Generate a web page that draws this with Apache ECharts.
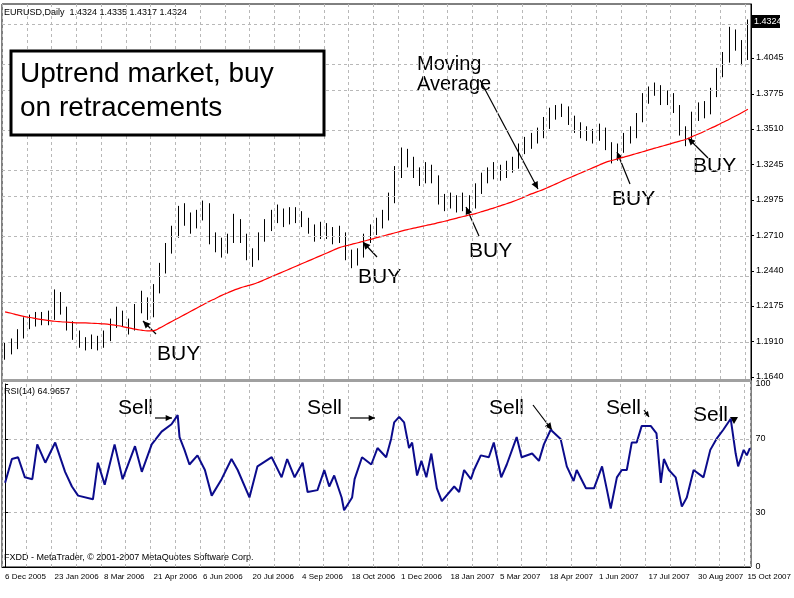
<!DOCTYPE html>
<html>
<head>
<meta charset="utf-8">
<script src="https://cdn.jsdelivr.net/npm/echarts@6/dist/echarts.min.js"></script>
<style>
  html, body { margin: 0; padding: 0; background: #fff; }
  #chart { width: 794px; height: 598px; }
</style>
</head>
<body>
<div id="chart"></div>
<script>
// data ==============================================================
// each bar ~4 trading days
var dateLabels = ['6 Dec 2005', '23 Jan 2006', '8 Mar 2006', '21 Apr 2006', '6 Jun 2006', '20 Jul 2006',
    '4 Sep 2006', '18 Oct 2006', '1 Dec 2006', '18 Jan 2007', '5 Mar 2007', '18 Apr 2007',
    '1 Jun 2007', '17 Jul 2007', '30 Aug 2007', '15 Oct 2007'];

var closes = [1.1844, 1.1882, 1.1957, 1.2033, 1.2056, 1.2086, 1.2071, 1.2086, 1.2260, 1.2146,
    1.2033, 1.1957, 1.1897, 1.1882, 1.1905, 1.1882, 1.1935, 1.2033, 1.2109, 1.2056,
    1.2010, 1.2146, 1.2222, 1.2109, 1.2298, 1.2449, 1.2600, 1.2713, 1.2865, 1.2827,
    1.2789, 1.2842, 1.2940, 1.2676, 1.2638, 1.2600, 1.2676, 1.2812, 1.2691, 1.2562,
    1.2540, 1.2691, 1.2766, 1.2842, 1.2887, 1.2812, 1.2842, 1.2865, 1.2812, 1.2766,
    1.2713, 1.2751, 1.2736, 1.2691, 1.2713, 1.2562, 1.2509, 1.2562, 1.2676, 1.2736,
    1.2789, 1.2842, 1.2978, 1.3167, 1.3296, 1.3280, 1.3190, 1.3129, 1.3205, 1.3144,
    1.2978, 1.2940, 1.2978, 1.2918, 1.2978, 1.2940, 1.3054, 1.3129, 1.3167, 1.3205,
    1.3167, 1.3220, 1.3243, 1.3356, 1.3394, 1.3432, 1.3470, 1.3545, 1.3621, 1.3643,
    1.3658, 1.3583, 1.3522, 1.3492, 1.3470, 1.3447, 1.3492, 1.3394, 1.3296, 1.3356,
    1.3432, 1.3470, 1.3583, 1.3734, 1.3794, 1.3825, 1.3734, 1.3749, 1.3674, 1.3507,
    1.3432, 1.3598, 1.3658, 1.3643, 1.3772, 1.3923, 1.4036, 1.4225, 1.4150, 1.4036,
    1.4324];
var highs = [1.1900, 1.1930, 1.2000, 1.2090, 1.2110, 1.2130, 1.2130, 1.2140, 1.2300, 1.2280,
    1.2170, 1.2060, 1.1990, 1.1940, 1.1960, 1.1950, 1.1990, 1.2080, 1.2170, 1.2140,
    1.2080, 1.2190, 1.2290, 1.2240, 1.2340, 1.2500, 1.2650, 1.2780, 1.2930, 1.2950,
    1.2880, 1.2900, 1.2970, 1.2950, 1.2730, 1.2690, 1.2720, 1.2870, 1.2830, 1.2720,
    1.2610, 1.2730, 1.2830, 1.2900, 1.2940, 1.2910, 1.2920, 1.2920, 1.2890, 1.2840,
    1.2790, 1.2810, 1.2800, 1.2770, 1.2780, 1.2730, 1.2600, 1.2610, 1.2720, 1.2790,
    1.2840, 1.2900, 1.3030, 1.3230, 1.3370, 1.3360, 1.3300, 1.3220, 1.3260, 1.3240,
    1.3160, 1.3020, 1.3030, 1.3010, 1.3030, 1.3010, 1.3100, 1.3180, 1.3220, 1.3260,
    1.3240, 1.3270, 1.3300, 1.3400, 1.3450, 1.3480, 1.3520, 1.3600, 1.3670, 1.3690,
    1.3700, 1.3680, 1.3610, 1.3560, 1.3530, 1.3510, 1.3550, 1.3520, 1.3410, 1.3400,
    1.3480, 1.3530, 1.3630, 1.3780, 1.3830, 1.3860, 1.3840, 1.3800, 1.3780, 1.3690,
    1.3530, 1.3640, 1.3710, 1.3720, 1.3820, 1.3970, 1.4090, 1.4280, 1.4260, 1.4180,
    1.4335];
var lows = [1.1770, 1.1810, 1.1850, 1.1930, 1.2000, 1.2020, 1.2030, 1.2030, 1.2070, 1.2110,
    1.1990, 1.1920, 1.1860, 1.1840, 1.1850, 1.1840, 1.1860, 1.1910, 1.2010, 1.2020,
    1.1960, 1.1990, 1.2120, 1.2070, 1.2090, 1.2270, 1.2420, 1.2570, 1.2690, 1.2780,
    1.2720, 1.2760, 1.2820, 1.2640, 1.2580, 1.2540, 1.2570, 1.2650, 1.2650, 1.2520,
    1.2470, 1.2520, 1.2660, 1.2740, 1.2800, 1.2770, 1.2790, 1.2800, 1.2770, 1.2720,
    1.2660, 1.2680, 1.2680, 1.2640, 1.2650, 1.2520, 1.2460, 1.2480, 1.2540, 1.2650,
    1.2710, 1.2760, 1.2820, 1.2950, 1.3140, 1.3220, 1.3140, 1.3080, 1.3100, 1.3100,
    1.2940, 1.2890, 1.2910, 1.2880, 1.2890, 1.2880, 1.2910, 1.3020, 1.3100, 1.3130,
    1.3120, 1.3140, 1.3180, 1.3210, 1.3320, 1.3360, 1.3400, 1.3440, 1.3510, 1.3580,
    1.3600, 1.3540, 1.3480, 1.3440, 1.3420, 1.3400, 1.3420, 1.3350, 1.3250, 1.3270,
    1.3330, 1.3400, 1.3440, 1.3560, 1.3700, 1.3760, 1.3690, 1.3690, 1.3630, 1.3460,
    1.3380, 1.3420, 1.3570, 1.3590, 1.3620, 1.3750, 1.3900, 1.4010, 1.4100, 1.3990,
    1.4030];
var firstOpen = 1.1800;

var movingAvg = [1.2131, 1.2120, 1.2108, 1.2097, 1.2088, 1.2080, 1.2072, 1.2066, 1.2060, 1.2056,
    1.2053, 1.2050, 1.2048, 1.2047, 1.2045, 1.2043, 1.2040, 1.2035, 1.2028, 1.2020,
    1.2010, 1.2000, 1.1993, 1.1988, 1.1990, 1.2010, 1.2035, 1.2060, 1.2085, 1.2110,
    1.2135, 1.2160, 1.2185, 1.2210, 1.2232, 1.2255, 1.2275, 1.2295, 1.2312, 1.2325,
    1.2338, 1.2355, 1.2375, 1.2395, 1.2415, 1.2435, 1.2455, 1.2475, 1.2495, 1.2515,
    1.2535, 1.2555, 1.2575, 1.2595, 1.2615, 1.2628, 1.2640, 1.2652, 1.2665, 1.2677,
    1.2690, 1.2702, 1.2715, 1.2727, 1.2740, 1.2751, 1.2762, 1.2772, 1.2782, 1.2792,
    1.2803, 1.2814, 1.2826, 1.2838, 1.2850, 1.2861, 1.2872, 1.2886, 1.2900, 1.2915,
    1.2930, 1.2946, 1.2962, 1.2980, 1.3000, 1.3020, 1.3037, 1.3054, 1.3075, 1.3096,
    1.3117, 1.3138, 1.3158, 1.3178, 1.3198, 1.3218, 1.3238, 1.3258, 1.3272, 1.3285,
    1.3298, 1.3311, 1.3325, 1.3338, 1.3352, 1.3365, 1.3378, 1.3392, 1.3405, 1.3418,
    1.3432, 1.3452, 1.3472, 1.3493, 1.3515, 1.3537, 1.3560, 1.3583, 1.3607, 1.3632,
    1.3658];

// RSI(14): position in bar units, value
var rsiPos = [0, 1.1, 2.1, 3.2, 4.4, 5.2, 6.5, 8.1, 9.7, 10.8, 11.8, 14.2, 15, 16.1, 17.7, 19,
    21, 22.1, 23.7, 25.3, 26.9, 27.9, 28.2, 29, 29.8, 31.1, 32.3, 33.4, 35, 36.6, 37.6, 39.5,
    40.8, 43.1, 44.7, 45.6, 46.8, 48.1, 48.9, 50.5, 51.6, 52.4, 53.2, 54.4, 54.8, 56.1, 56.5,
    57.7, 59.2, 60.2, 61.6, 62.4, 62.9, 63.7, 64.5, 65.3, 65.8, 66.6, 67.3, 68.1, 68.9, 69.8,
    70.6, 72.6, 73.4, 74.2, 75.3, 75.8, 76.9, 78.2, 79, 80.2, 81.1, 82.7, 83.5, 85.2, 86.3,
    87.1, 88.2, 89.8, 90.8, 91.9, 92.4, 93.9, 95.2, 96.5, 97.3, 97.9, 98.9, 99.7, 100.5, 101.3,
    102.1, 102.9, 104.4, 105.3, 106, 106.5, 107.3, 108.4, 109.4, 110.2, 111.3, 112.9, 114, 115,
    116.1, 117.3, 118.1, 118.5, 119.4, 119.9, 120.4];
var rsiVal = [46, 59, 60, 49, 48, 67, 57, 68, 52, 44, 39, 37, 57, 45, 67, 48,
    66, 52, 67, 74, 78, 83, 71, 64, 56, 61, 53, 39, 48, 59, 53, 38,
    55, 60, 49, 59, 49, 57, 41, 42, 53, 44, 50, 38, 31, 38, 48,
    60, 56, 65, 60, 70, 79, 82, 79, 65, 68, 50, 58, 49, 62, 43,
    36, 44, 41, 53, 48, 53, 61, 60, 68, 49, 56, 71, 60, 62, 58,
    67, 75, 70, 55, 47, 53, 43, 43, 55, 42, 32, 49, 53, 53, 68,
    68, 77, 77, 73, 46, 59, 53, 49, 33, 38, 53, 49, 64, 70,
    75, 81, 62, 55, 64, 61, 65];

var priceTicks = [1.1640, 1.1910, 1.2175, 1.2440, 1.2710, 1.2975, 1.3245, 1.3510, 1.3775, 1.4045, 1.4324];
var rsiTicks = [0, 30, 70, 100];
var lastPrice = '1.4324';

// build ==============================================================
var cats = closes.map(function(c, i) { return i; });
var ohlc = closes.map(function(c, i) {
    var o = i === 0 ? firstOpen : closes[i - 1];
    return [o, c, lows[i], highs[i]];
});
var rsiData = rsiPos.map(function(p, i) { return [p, rsiVal[i]]; });
// the last tick is shown as the black price tag instead of a plain label
var priceLabelTicks = priceTicks.slice(0, priceTicks.length - 1);

var small = { fontFamily: 'Liberation Sans', fontSize: 9, color: '#000' };
var big = 'Liberation Sans';
var gridLine = { color: '#b8b8b8', type: [3, 3], width: 1 };

function arrow(x1, y1, x2, y2, head) {
    var a = Math.atan2(y2 - y1, x2 - x1);
    var h = head || 8;
    var s = 0.45;
    return [{
        type: 'line', shape: { x1: x1, y1: y1, x2: x2, y2: y2 },
        style: { stroke: '#000', lineWidth: 1.2 }
    }, {
        type: 'polygon',
        shape: { points: [[x2, y2],
            [x2 - h * Math.cos(a - s), y2 - h * Math.sin(a - s)],
            [x2 - h * Math.cos(a + s), y2 - h * Math.sin(a + s)]] },
        style: { fill: '#000' }
    }];
}

function label(x, y, t, size) {
    return { type: 'text', left: x, top: y,
        style: { text: t, fontFamily: big, fontSize: size || 21, fill: '#000' } };
}

var graphics = [
    { type: 'rect', shape: { x: 2, y: 4, width: 749, height: 563 }, style: { fill: 'none', stroke: '#000', lineWidth: 1 } },
    { type: 'rect', shape: { x: 2, y: 379, width: 749, height: 3 }, style: { fill: '#a0a0a0' } },
    { type: 'text', left: 4, top: 8, style: { text: 'EURUSD,Daily  1.4324 1.4335 1.4317 1.4324', font: '9px Liberation Sans', fill: '#000' } },
    { type: 'text', left: 4, top: 387, style: { text: 'RSI(14) 64.9657', font: '9px Liberation Sans', fill: '#000' } },
    { type: 'text', left: 4, top: 553, style: { text: 'FXDD - MetaTrader, © 2001-2007 MetaQuotes Software Corp.', font: '9px Liberation Sans', fill: '#000' } },
    { type: 'rect', shape: { x: 752, y: 15, width: 28, height: 13 }, style: { fill: '#000' }, z: 10 },
    { type: 'text', left: 754, top: 17, style: { text: lastPrice, font: '9px Liberation Sans', fill: '#fff' }, z: 11 },
    { type: 'rect', shape: { x: 11, y: 51, width: 313, height: 84 }, style: { fill: '#fff', stroke: '#000', lineWidth: 3 }, z: 10 },
    { type: 'text', left: 20, top: 57, style: { text: 'Uptrend market, buy\non retracements', fontFamily: big, fontSize: 28, lineHeight: 34, fill: '#000' }, z: 11 },
    label(417, 54, 'Moving\nAverage', 20),
    label(157, 344, 'BUY'), label(358, 267, 'BUY'), label(469, 241, 'BUY'),
    label(612, 189, 'BUY'), label(693, 156, 'BUY'),
    label(118, 398, 'Sell'), label(307, 398, 'Sell'), label(489, 398, 'Sell'),
    label(606, 398, 'Sell'), label(693, 405, 'Sell')
];
graphics = graphics
    .concat(arrow(156, 334, 143, 321))
    .concat(arrow(377, 257, 363, 242))
    .concat(arrow(479, 236, 466, 207))
    .concat(arrow(630, 184, 617, 152))
    .concat(arrow(708, 158, 688, 138))
    .concat(arrow(480, 80, 538, 189))
    .concat(arrow(155, 418, 172, 418, 7))
    .concat(arrow(350, 418, 375, 418, 7))
    .concat(arrow(533, 405, 552, 430))
    .concat(arrow(644, 410, 649, 417, 6))
    .concat([{ type: 'polygon', shape: { points: [[730, 417], [738, 417], [734, 424]] }, style: { fill: '#000' } }]);

var chart = echarts.init(document.getElementById('chart'));
chart.setOption({
    animation: false,
    backgroundColor: '#fff',
    grid: [
        { left: 2, top: 4, width: 749, height: 376 },
        { left: 2, top: 384, width: 749, height: 183 }
    ],
    xAxis: [
        { type: 'category', gridIndex: 0, data: cats, boundaryGap: true,
          axisLine: { show: false }, axisTick: { show: false }, axisLabel: { show: false },
          splitLine: { show: true, interval: 3, lineStyle: gridLine } },
        { type: 'category', gridIndex: 1, data: cats, boundaryGap: true,
          axisLine: { show: true, lineStyle: { color: '#000' } }, axisTick: { show: false },
          axisLabel: { interval: 7, align: 'left', margin: 6, fontFamily: 'Liberation Sans', fontSize: 8, color: '#000',
              hideOverlap: false, showMinLabel: true, showMaxLabel: true,
              formatter: function(v, i) { return dateLabels[i / 8] || ''; } },
          splitLine: { show: true, interval: 3, lineStyle: gridLine } },
        { type: 'value', gridIndex: 1, min: -0.5, max: 120.5, show: false, splitLine: { show: false } }
    ],
    yAxis: [
        { type: 'value', gridIndex: 0, position: 'right', min: 1.1617, max: 1.4452, scale: true,
          axisLine: { show: true, lineStyle: { color: '#000' } },
          axisTick: { show: true, customValues: priceTicks, length: 3, lineStyle: { color: '#000' } },
          axisLabel: Object.assign({ customValues: priceLabelTicks, margin: 5,
              formatter: function(v) { return v.toFixed(4); } }, small),
          splitLine: { show: false } },
        { type: 'value', gridIndex: 1, position: 'right', min: 0, max: 100,
          axisLine: { show: true, lineStyle: { color: '#000' } },
          axisTick: { show: true, customValues: rsiTicks, length: 3, lineStyle: { color: '#000' } },
          axisLabel: Object.assign({ customValues: rsiTicks, margin: 5 }, small),
          splitLine: { show: false } }
    ],
    series: [
        { type: 'candlestick', xAxisIndex: 0, yAxisIndex: 0, data: ohlc, barWidth: 1,
          itemStyle: { color: '#000', color0: '#000', borderColor: '#000', borderColor0: '#000', borderWidth: 1 } },
        { type: 'line', xAxisIndex: 0, yAxisIndex: 0, data: movingAvg, showSymbol: false, smooth: true,
          lineStyle: { color: '#ff0000', width: 1.2 },
          markLine: { silent: true, symbol: 'none', label: { show: false }, lineStyle: gridLine,
              data: priceTicks.map(function(v) { return { yAxis: v }; }) } },
        { type: 'line', xAxisIndex: 2, yAxisIndex: 1, data: rsiData, showSymbol: false,
          lineStyle: { color: '#0b0b8c', width: 2 },
          markLine: { silent: true, symbol: 'none', label: { show: false }, lineStyle: gridLine,
              data: [{ yAxis: 30 }, { yAxis: 70 }] } }
    ],
    graphic: graphics
});
</script>
</body>
</html>
